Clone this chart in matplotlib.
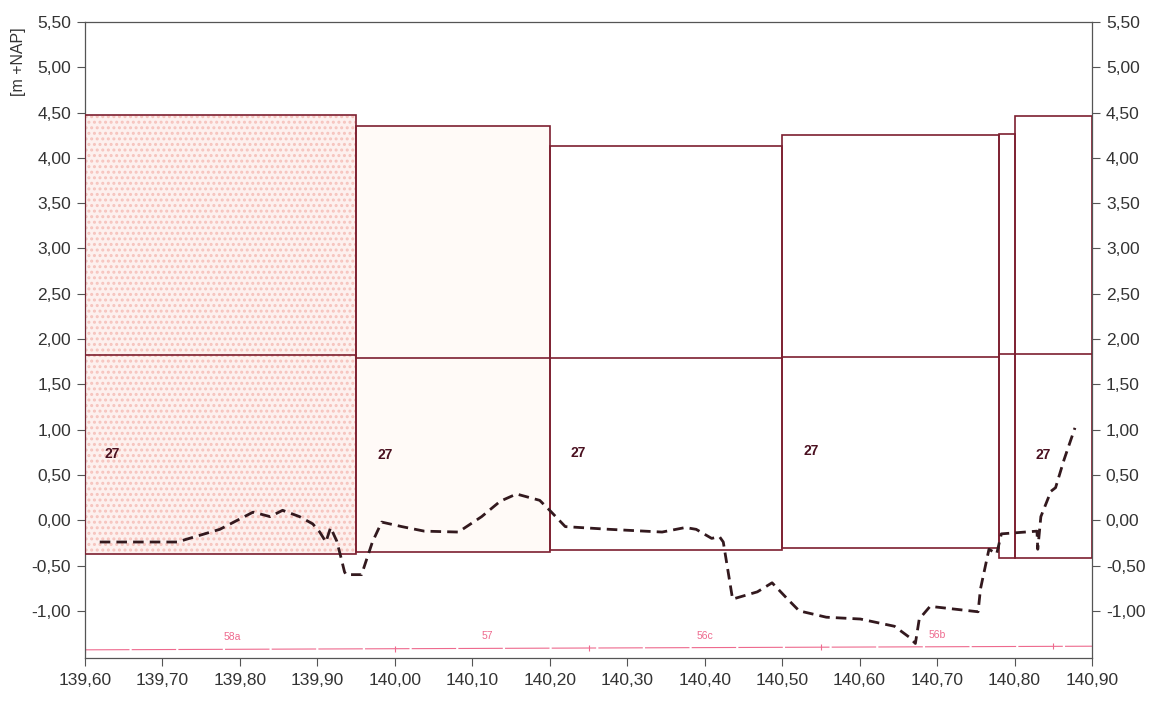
import matplotlib.pyplot as plt
import numpy as np
from matplotlib.patches import Rectangle
from matplotlib.ticker import FuncFormatter, MultipleLocator

plt.rcParams['font.family'] = ['Liberation Sans', 'DejaVu Sans']
plt.rcParams['hatch.linewidth'] = 1.4

# section edges along the chainage (km)
edges = [139.60, 139.95, 140.20, 140.50, 140.78, 140.80, 140.90]
box_top = [4.47, 4.35, 4.13, 4.25, 4.26, 4.46]
box_mid = [1.82, 1.79, 1.79, 1.80, 1.83, 1.83]
box_bottom = [-0.37, -0.35, -0.33, -0.31, -0.42, -0.42]
box_label = ['27', '27', '27', '27', '', '27']
label_x = [139.625, 139.977, 140.227, 140.527, None, 140.827]
label_y = [0.73, 0.72, 0.74, 0.76, None, 0.72]

# dashed profile
prof_x = [139.619, 139.719, 139.774, 139.817, 139.839, 139.855, 139.877,
          139.894, 139.903, 139.911, 139.917, 139.925, 139.931, 139.935,
          139.937, 139.957, 139.971, 139.983, 140.009, 140.038, 140.082,
          140.112, 140.136, 140.157, 140.187, 140.201, 140.220, 140.277,
          140.345, 140.375, 140.389, 140.409, 140.419, 140.424, 140.436,
          140.468, 140.487, 140.507, 140.522, 140.557, 140.601, 140.645,
          140.664, 140.672, 140.677, 140.691, 140.753, 140.756, 140.767,
          140.777, 140.783, 140.829, 140.830, 140.834, 140.847, 140.853,
          140.864, 140.878]
prof_y = [-0.24, -0.24, -0.10, 0.09, 0.04, 0.11, 0.04,
          -0.04, -0.13, -0.24, -0.08, -0.23, -0.43, -0.57,
          -0.60, -0.60, -0.24, -0.02, -0.07, -0.12, -0.13,
          0.04, 0.21, 0.29, 0.22, 0.10, -0.07, -0.10,
          -0.13, -0.08, -0.10, -0.20, -0.18, -0.24, -0.87,
          -0.79, -0.69, -0.87, -1.00, -1.07, -1.09, -1.17,
          -1.29, -1.36, -1.09, -0.95, -1.01, -0.76, -0.32,
          -0.37, -0.15, -0.12, -0.32, 0.04, 0.32, 0.36,
          0.67, 1.02]

# pink section line with names
seg_edges = [139.60, 140.00, 140.25, 140.55, 140.85]
seg_names = ['58a', '57', '56c', '56b']
seg_name_x = [139.79, 140.12, 140.40, 140.70]

maroon = '#7d1f30'
dark = '#33191e'
pink = '#ee6a8e'

fig = plt.figure(figsize=(11.57, 7.02), dpi=100)
ax = fig.add_axes([0.0735, 0.0627, 0.8703, 0.906])

# speckled fill of the first two sections
ax.add_patch(Rectangle((edges[0], box_bottom[0]), edges[1] - edges[0],
                       box_top[0] - box_bottom[0], facecolor='#fdf0ee',
                       edgecolor='#f6c3bd', hatch='...', linewidth=0,
                       zorder=1))
ax.add_patch(Rectangle((edges[1], box_bottom[1]), edges[2] - edges[1],
                       box_top[1] - box_bottom[1], facecolor='#fffaf7',
                       edgecolor='none', linewidth=0, zorder=1))

for i in range(len(edges) - 1):
    x0, x1 = edges[i], edges[i + 1]
    ax.add_patch(Rectangle((x0, box_bottom[i]), x1 - x0,
                           box_top[i] - box_bottom[i], fill=False,
                           edgecolor=maroon, linewidth=1.2, zorder=3))
    ax.plot([x0, x1], [box_mid[i], box_mid[i]], color=maroon, lw=1.2,
            zorder=3)
    if box_label[i]:
        ax.text(label_x[i], label_y[i], box_label[i], color='#4a1020',
                fontsize=10, fontweight='bold', ha='left', va='center',
                zorder=4)

ax.plot(prof_x, prof_y, color=dark, lw=2.0, ls=(0, (3.8, 2.2)), zorder=5)

# pink line, slightly broken
ax.plot([seg_edges[0], 140.90], [-1.43, -1.39], color=pink, lw=0.8,
        ls=(0, (40, 2)), zorder=2)
for sx in seg_edges:
    ax.plot([sx], [-1.43 + (sx - 139.60) * 0.03], marker='|', ms=5,
            color=pink, mew=0.8, zorder=2)
for nm, nx in zip(seg_names, seg_name_x):
    ax.text(nx, -1.29 + (nx - 139.60) * 0.02, nm, color=pink, fontsize=7.5,
            ha='center', va='center', zorder=2)

ax.set_xlim(139.60, 140.90)
ax.set_ylim(-1.52, 5.50)
ax.xaxis.set_major_locator(MultipleLocator(0.1))
ax.set_yticks(np.arange(-1.0, 5.51, 0.5))
fmt = FuncFormatter(lambda v, p: f'{v:.2f}'.replace('.', ','))
ax.xaxis.set_major_formatter(fmt)
ax.yaxis.set_major_formatter(fmt)
ax.tick_params(axis='both', labelsize=12.5, colors='#555555',
               labelcolor='#333333', length=6, width=0.8)
ax.tick_params(axis='y', right=True, labelright=True, pad=4)
ax.tick_params(axis='x', pad=5)
for s in ax.spines.values():
    s.set_color('#555555')
    s.set_linewidth(0.9)

fig.text(0.0156, 0.912, '[m +NAP]', rotation=90, ha='center', va='center',
         fontsize=11.5, color='#333333')

fig.savefig('out.png', dpi=100)
